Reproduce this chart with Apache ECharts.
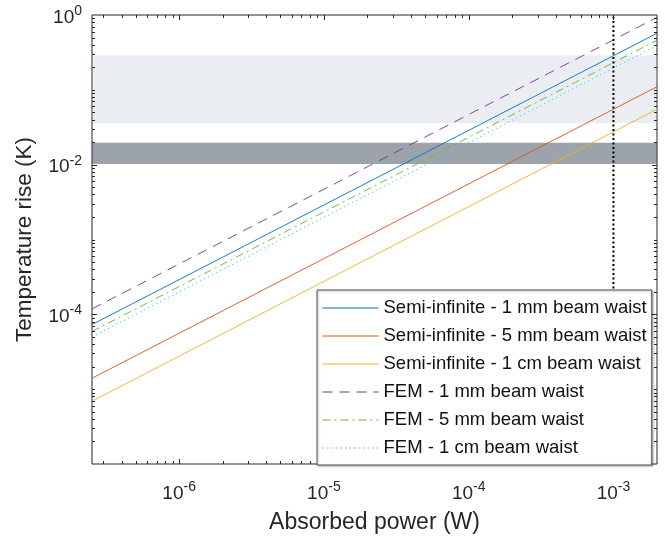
<!DOCTYPE html>
<html><head><meta charset="utf-8">
<script src="https://cdn.jsdelivr.net/npm/echarts@6/dist/echarts.min.js"></script>
<style>html,body{margin:0;padding:0;background:#fff}#c{width:665px;height:539px}</style>
</head><body><div id="c"></div>
<script>
// ---- data ----
const power = [2.5e-7, 2e-3];               // absorbed power (W), line endpoints
const semi1mm = [7.3e-5, 0.57];
const semi5mm = [1.4e-5, 0.11];
const semi1cm = [6.9e-6, 0.055];
const fem1mm = [1.18e-4, 0.93];
const fem5mm = [5.9e-5, 0.46];
const fem1cm = [5.0e-5, 0.39];
const seriesNames = [
  'Semi-infinite - 1 mm beam waist',
  'Semi-infinite - 5 mm beam waist',
  'Semi-infinite - 1 cm beam waist',
  'FEM - 1 mm beam waist',
  'FEM - 5 mm beam waist',
  'FEM - 1 cm beam waist'
];
const lightBand = [0.036, 0.29];
const darkBand = [0.0102, 0.0197];
const markerPower = 1e-3;
const xRange = [2.5e-7, 2e-3];
const yRange = [1e-6, 1];
const xLabelExponents = [-6, -5, -4, -3];
const yLabelExponents = [-4, -2, 0];
const xMajorTicks = [1e-6, 1e-5, 1e-4, 1e-3];
const yMajorTicks = [1e-4, 1e-2, 1];

// ---- styling ----
const FONT = '"Liberation Sans", Arial, sans-serif';
const INK = '#262626';
const colors = ['#0072BD', '#D95319', '#EDB120', '#7E2F8E', '#77AC30', '#4DBEEE'];
const dashes = ['solid', 'solid', 'solid', [10, 7], [8, 4, 2, 4], [1.5, 3]];
const values = [semi1mm, semi5mm, semi1cm, fem1mm, fem5mm, fem1cm];

// minor tick positions (axis decoration)
function minorTicks(range, majors) {
  const out = [];
  for (let e = -8; e <= 1; e++) {
    for (let m = 1; m <= 9; m++) {
      const v = m * Math.pow(10, e);
      if (v > range[0] * 1.0001 && v < range[1] * 0.9999 &&
          !majors.some(t => Math.abs(t / v - 1) < 1e-6)) out.push(v);
    }
  }
  return out;
}
const tickData = [];
xMajorTicks.forEach(v => tickData.push([v, yRange[0], 0, 5]));
minorTicks(xRange, xMajorTicks).forEach(v => tickData.push([v, yRange[0], 0, 3]));
yMajorTicks.forEach(v => { if (v > yRange[0] && v < yRange[1]) tickData.push([xRange[0], v, 1, 5]); });
minorTicks(yRange, yMajorTicks).forEach(v => tickData.push([xRange[0], v, 1, 3]));

function makeFmt(allowed) {
  return function (v) {
    const l = Math.log10(v);
    const e = Math.round(l);
    if (Math.abs(l - e) > 1e-6 || allowed.indexOf(e) < 0) return '';
    return '{b|10}{s|' + e + '}';
  };
}
const rich = {
  b: { fontSize: 19, fontFamily: FONT, color: INK, verticalAlign: 'bottom', lineHeight: 24 },
  s: { fontSize: 14, fontFamily: FONT, color: INK, verticalAlign: 'bottom', lineHeight: 24, padding: [0, 0, 9, 0] }
};

const series = values.map((vals, i) => ({
  name: seriesNames[i],
  type: 'line',
  data: power.map((p, j) => [p, vals[j]]),
  symbol: 'none',
  z: 2,
  lineStyle: { color: colors[i], width: 0.9, type: dashes[i] },
  itemStyle: { color: colors[i] }
}));

series.push({
  type: 'line', name: 'bands', data: [], z: 3, silent: true,
  markArea: {
    silent: true,
    data: [
      [{ yAxis: lightBand[0], itemStyle: { color: 'rgba(175,190,210,0.26)' } }, { yAxis: lightBand[1] }],
      [{ yAxis: darkBand[0], itemStyle: { color: 'rgba(60,72,85,0.5)' } }, { yAxis: darkBand[1] }]
    ]
  }
});
series.push({
  type: 'line', name: 'marker', z: 3, symbol: 'none', silent: true,
  data: [[markerPower, yRange[0]], [markerPower, yRange[1]]],
  lineStyle: { color: '#000', width: 2, type: [2, 2.5] }
});
series.push({
  type: 'custom', name: 'ticks', z: 6, silent: true, clip: false,
  data: tickData,
  encode: { x: 0, y: 1 },
  renderItem: function (params, api) {
    const x = api.value(0), y = api.value(1), t = api.value(2), len = api.value(3);
    const st = { stroke: INK, lineWidth: 1 };
    if (t === 0) {
      const a = api.coord([x, yRange[0]]), b = api.coord([x, yRange[1]]);
      const px = Math.round(a[0]) + 0.5;
      return { type: 'group', children: [
        { type: 'line', shape: { x1: px, y1: a[1], x2: px, y2: a[1] - len }, style: st },
        { type: 'line', shape: { x1: px, y1: b[1], x2: px, y2: b[1] + len }, style: st }
      ]};
    } else {
      const a = api.coord([xRange[0], y]), b = api.coord([xRange[1], y]);
      const py = Math.round(a[1]) + 0.5;
      return { type: 'group', children: [
        { type: 'line', shape: { x1: a[0], y1: py, x2: a[0] + len, y2: py }, style: st },
        { type: 'line', shape: { x1: b[0], y1: py, x2: b[0] - len, y2: py }, style: st }
      ]};
    }
  }
});

const chart = echarts.init(document.getElementById('c'), null, { renderer: 'canvas' });
chart.setOption({
  animation: false,
  backgroundColor: '#fff',
  textStyle: { fontFamily: FONT },
  grid: { left: 92, right: 8, top: 15, bottom: 74, show: true, borderColor: INK, borderWidth: 1, backgroundColor: 'transparent' },
  xAxis: {
    type: 'log', logBase: 10, min: xRange[0], max: xRange[1],
    axisLine: { show: false }, axisTick: { show: false }, splitLine: { show: false },
    axisLabel: { formatter: makeFmt(xLabelExponents), rich: rich, margin: 15, showMinLabel: true, showMaxLabel: true },
    name: 'Absorbed power (W)', nameLocation: 'middle', nameGap: 47,
    nameTextStyle: { fontSize: 23, color: INK, fontFamily: FONT }
  },
  yAxis: {
    type: 'log', logBase: 10, min: yRange[0], max: yRange[1],
    axisLine: { show: false }, axisTick: { show: false }, splitLine: { show: false },
    axisLabel: { formatter: makeFmt(yLabelExponents), rich: rich, margin: 10 },
    name: 'Temperature rise (K)', nameLocation: 'middle', nameGap: 56,
    nameTextStyle: { fontSize: 22.5, color: INK, fontFamily: FONT }
  },
  legend: {
    data: seriesNames,
    orient: 'vertical',
    left: 317, top: 290,
    padding: [8, 5, 7, 5],
    itemWidth: 56, itemHeight: 14, itemGap: 8,
    itemStyle: { opacity: 0 },
    lineStyle: { width: 1 },
    backgroundColor: '#fff', borderColor: '#555', borderWidth: 1,
    shadowColor: 'rgba(0,0,0,0.3)', shadowBlur: 2, shadowOffsetX: 1, shadowOffsetY: 1,
    textStyle: { fontSize: 18.5, color: '#111', fontFamily: FONT, lineHeight: 20 },
    selectedMode: false, z: 10
  },
  series: series
});
</script>
</body></html>
